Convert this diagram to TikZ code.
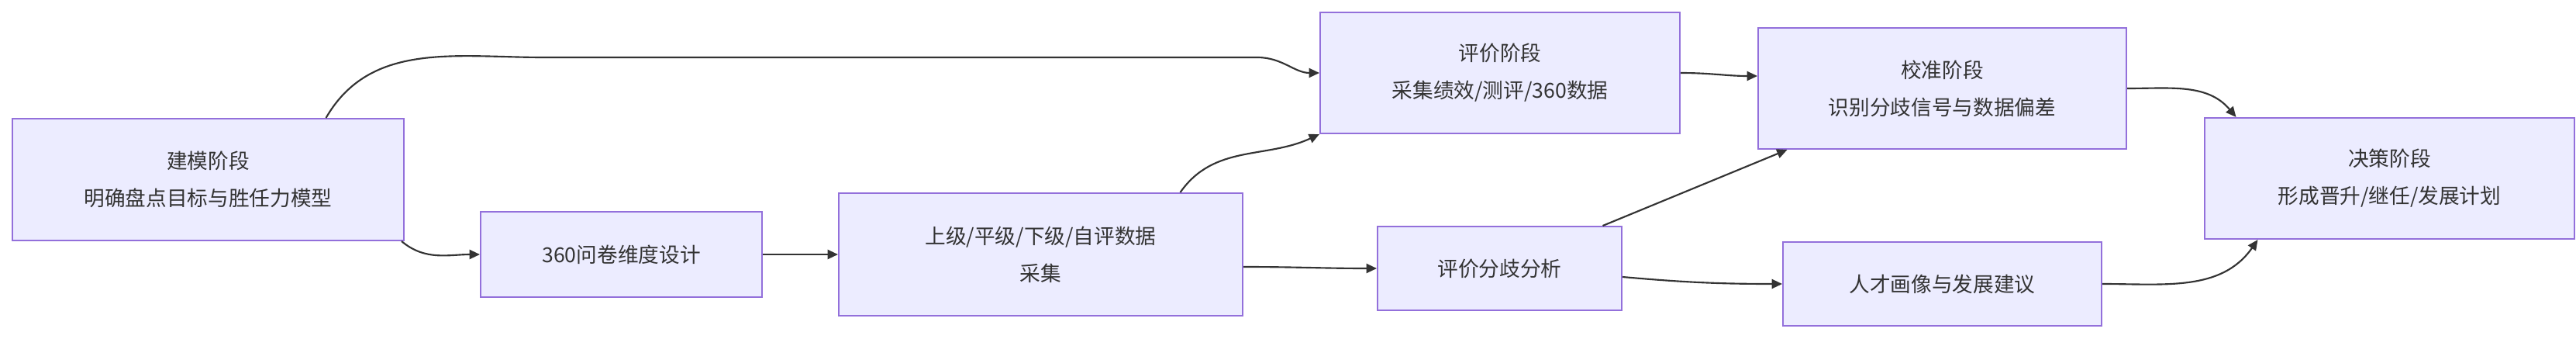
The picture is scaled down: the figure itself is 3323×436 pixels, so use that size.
\documentclass[tikz,border=0pt]{standalone}
\usepackage{fontspec}
\setmainfont{Noto Sans CJK SC}
\usetikzlibrary{arrows.meta,calc}
\definecolor{boxfill}{HTML}{ECECFF}
\definecolor{boxdraw}{HTML}{9370DB}
\definecolor{edge}{HTML}{333333}
\begin{document}
\begin{tikzpicture}[x=0.75pt,y=-0.75pt,
  box/.style={draw=boxdraw,fill=boxfill,line width=1.5pt,rectangle,inner sep=0pt,align=center,
    font=\fontsize{20pt}{36pt}\selectfont,text=edge},
  arr/.style={draw=edge,line width=1.6pt,-{Triangle[length=10pt,width=9pt]}}]
\useasboundingbox (0,0) rectangle (3323,436);
\node[box,minimum width=378.75pt,minimum height=117.75pt] (jm) at (268.5,231.5) {建模阶段\\明确盘点目标与胜任力模型};
\node[box,minimum width=272.25pt,minimum height=82.5pt] (wj) at (801.5,328) {360问卷维度设计};
\node[box,minimum width=390.75pt,minimum height=118.5pt] (sj) at (1342.5,328) {上级/平级/下级/自评数据\\采集};
\node[box,minimum width=348pt,minimum height=117pt] (pj) at (1935,94) {评价阶段\\采集绩效/测评/360数据};
\node[box,minimum width=356.25pt,minimum height=117pt] (jz) at (2505.5,114) {校准阶段\\识别分歧信号与数据偏差};
\node[box,minimum width=357.75pt,minimum height=117pt] (jc) at (3082.5,230) {决策阶段\\形成晋升/继任/发展计划};
\node[box,minimum width=236.25pt,minimum height=81pt] (fx) at (1934.5,346) {评价分歧分析};
\node[box,minimum width=308.25pt,minimum height=81pt] (rc) at (2505.5,366) {人才画像与发展建议};
\draw[arr] ($(jm.north)+(152,0)$) to[out=60,in=180] ($(pj.west)+(-1000,-20)$) -- ($(pj.west)+(-80,-20)$) to[out=0,in=180] (pj.west);
\draw[arr] ($(jm.south east)+(-4,0)$) to[out=-40,in=180] (wj.west);
\draw[arr] (wj.east) -- (sj.west);
\draw[arr] ($(sj.north)+(180,0)$) to[out=55,in=205] (pj.south west);
\draw[arr] ($(sj.east)+(0,16)$) to[out=0,in=180] (fx.west);
\draw[arr] (pj.east) to[out=0,in=180] ($(jz.west)+(0,-16)$);
\draw[arr] ($(fx.north)+(133,0)$) -- ($(jz.south)+(-200,0)$);
\draw[arr] ($(fx.east)+(0,11)$) to[out=-5,in=180] (rc.west);
\draw[arr] (jz.east) to[out=0,in=130] ($(jc.north)+(-198,0)$);
\draw[arr] (rc.east) to[out=0,in=235] ($(jc.south)+(-170,0)$);
\end{tikzpicture}
\end{document}
